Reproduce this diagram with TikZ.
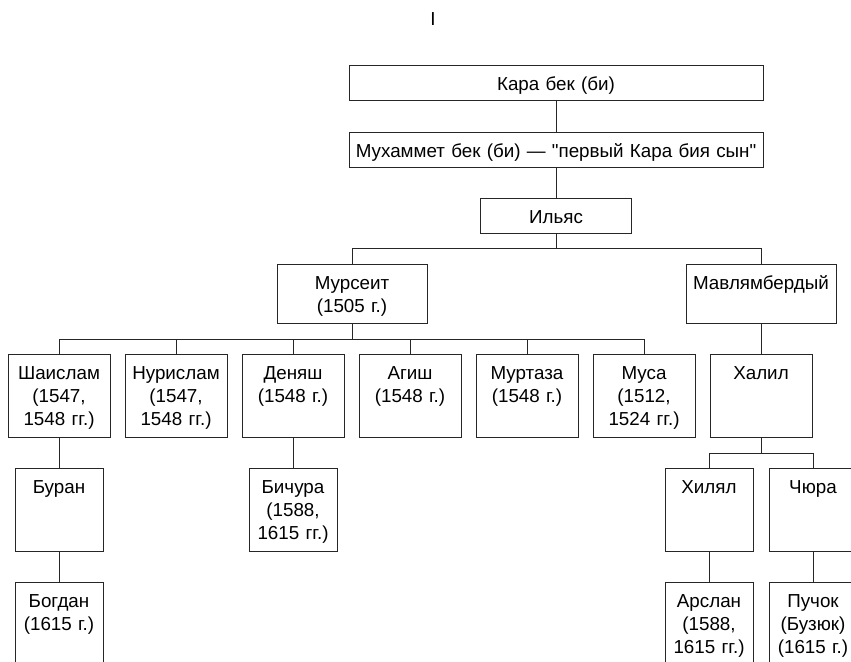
\documentclass[tikz,border=0pt]{standalone}
\usepackage{fontspec}
\setmainfont{Liberation Sans}[Ligatures=TeXOff]
\usetikzlibrary{positioning}

\begin{document}
\begin{tikzpicture}[x=1pt, y=-1pt]
  \tikzstyle{person}=[draw=black!85, line width=0.8pt, inner sep=0pt, align=center,
  text height=25pt, font=\fontsize{18.8}{23}\selectfont, anchor=north]
  \tikzstyle{wide}=[person, text width=414pt, text depth=10pt]
  \tikzstyle{elder}=[person, text width=150pt, text depth=34pt]
  \tikzstyle{son}=[person, text width=102pt, text depth=58pt]
  \tikzstyle{grandson}=[person, text width=88pt, text depth=58pt]
  \tikzstyle{link}=[draw=black!85, line width=0.8pt]

  \useasboundingbox (0,0) rectangle (851,661);
  \clip (0,0) rectangle (851,661);

  \node (scheme) at (433,19) [font=\fontsize{18.8}{23}\selectfont] {I};

  \node (kara) at (556,65) [wide] {Кара бек (би)};
  \node (mukhammet) at (556,132) [wide] {Мухаммет бек (би) — "первый Кара бия сын"};
  \node (ilyas) at (556,198) [person, text width=151pt, text depth=10pt] {Ильяс};

  \node (murseit) at (352,264) [elder] {Мурсеит\\(1505 г.)};
  \node (mavl) at (761,264) [elder] {Мавлямбердый};

  \node (shaislam) at (59,354) [son] {Шаислам\\(1547,\\1548 гг.)};
  \node (nurislam) at (176,354) [son] {Нурислам\\(1547,\\1548 гг.)};
  \node (denyash) at (293,354) [son] {Деняш\\(1548 г.)};
  \node (agish) at (410,354) [son] {Агиш\\(1548 г.)};
  \node (murtaza) at (527,354) [son] {Муртаза\\(1548 г.)};
  \node (musa) at (644,354) [son] {Муса\\(1512,\\1524 гг.)};
  \node (khalil) at (761,354) [son] {Халил};

  \node (buran) at (59,468) [grandson] {Буран};
  \node (bichura) at (293,468) [grandson] {Бичура\\(1588,\\1615 гг.)};
  \node (khilyal) at (709,468) [grandson] {Хилял};
  \node (chyura) at (813,468) [grandson] {Чюра};

  \node (bogdan) at (59,582) [grandson] {Богдан\\(1615 г.)};
  \node (arslan) at (709,582) [grandson] {Арслан\\(1588,\\1615 гг.)};
  \node (puchok) at (813,582) [grandson] {Пучок\\(Бузюк)\\(1615 г.)};

  \draw [link] (kara) -- (mukhammet);
  \draw [link] (mukhammet) -- (ilyas);
  \draw [link] (ilyas.south) -- ++(0,15);
  \draw [link] (murseit.north) -- ++(0,-16) -| (mavl.north);
  \draw [link] (murseit.south) -- ++(0,16);
  \draw [link] (shaislam.north) -- ++(0,-15) -| (musa.north);
  \foreach \c in {nurislam, denyash, agish, murtaza}
    \draw [link] (\c.north) -- ++(0,-15);
  \draw [link] (mavl) -- (khalil);
  \draw [link] (khalil.south) -- ++(0,16);
  \draw [link] (khilyal.north) -- ++(0,-15) -| (chyura.north);
  \draw [link] (shaislam) -- (buran);
  \draw [link] (buran) -- (bogdan);
  \draw [link] (denyash) -- (bichura);
  \draw [link] (khilyal) -- (arslan);
  \draw [link] (chyura) -- (puchok);
\end{tikzpicture}
\end{document}
